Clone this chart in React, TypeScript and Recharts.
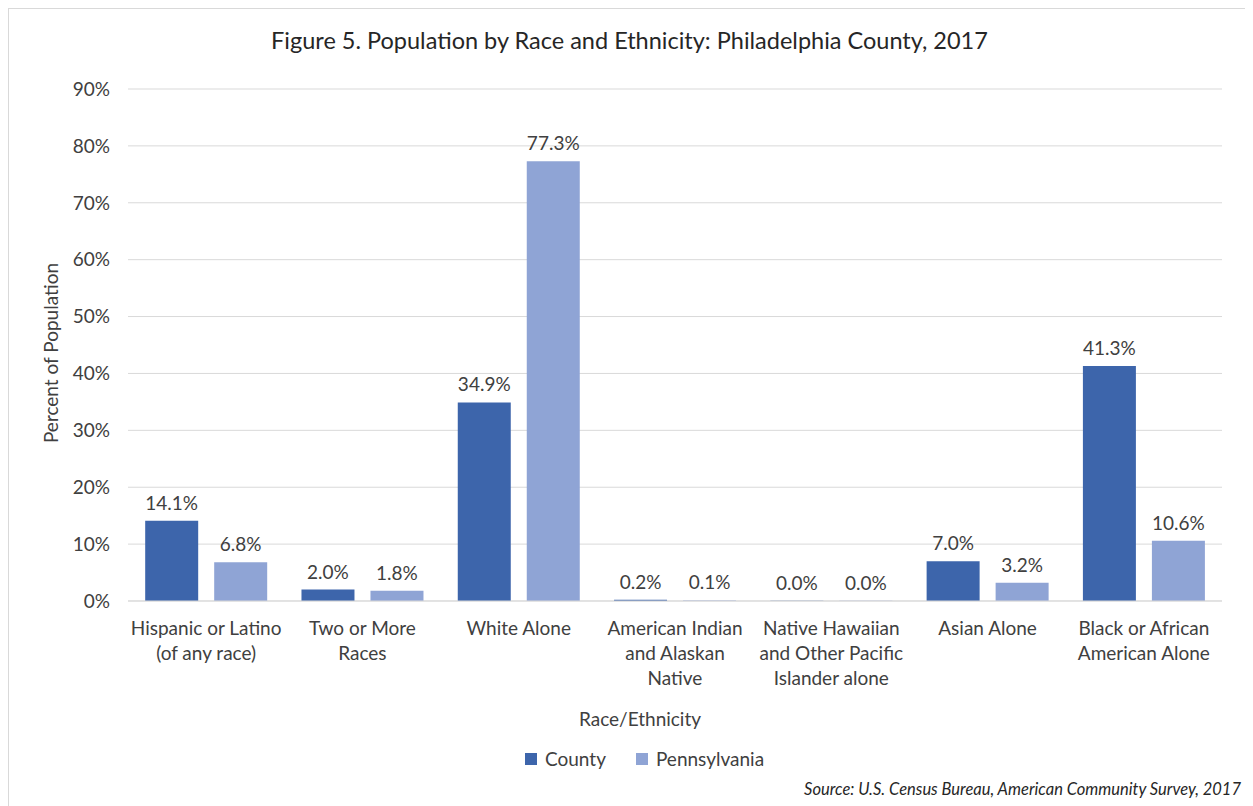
import { BarChart, Bar, XAxis, YAxis, CartesianGrid, LabelList, Legend } from 'recharts'

const categories = [
  'Hispanic or Latino (of any race)',
  'Two or More Races',
  'White Alone',
  'American Indian and Alaskan Native',
  'Native Hawaiian and Other Pacific Islander alone',
  'Asian Alone',
  'Black or African American Alone',
]

const categoryLines = [
  ['Hispanic or Latino', '(of any race)'],
  ['Two or More', 'Races'],
  ['White Alone'],
  ['American Indian', 'and Alaskan', 'Native'],
  ['Native Hawaiian', 'and Other Pacific', 'Islander alone'],
  ['Asian Alone'],
  ['Black or African', 'American Alone'],
]

const countyValues = [14.1, 2.0, 34.9, 0.2, 0.0, 7.0, 41.3]
const pennsylvaniaValues = [6.8, 1.8, 77.3, 0.1, 0.0, 3.2, 10.6]

const yTicks = [0, 10, 20, 30, 40, 50, 60, 70, 80, 90]

const COUNTY = '#3d65ab'
const PENN = '#8fa4d5'
const TEXT = '#404040'
const FONT = 'Lato, "Liberation Sans", sans-serif'
const FS = 19

const data = categories.map((name, i) => ({
  name,
  county: countyValues[i],
  pennsylvania: pennsylvaniaValues[i],
}))

function CategoryTick({ x, y, index }: any) {
  const lines = categoryLines[index] || []
  return (
    <text x={x} y={y} textAnchor="middle" fill={TEXT} fontSize={FS} fontFamily={FONT}>
      {lines.map((l, i) => (
        <tspan key={i} x={x} y={y + 26 + i * 25}>
          {l}
        </tspan>
      ))}
    </text>
  )
}

function LegendContent() {
  const items = [
    { label: 'County', color: COUNTY },
    { label: 'Pennsylvania', color: PENN },
  ]
  return (
    <div style={{ display: 'flex', fontFamily: FONT, fontSize: FS, color: TEXT }}>
      {items.map((it) => (
        <div key={it.label} style={{ display: 'flex', alignItems: 'center', marginRight: 30 }}>
          <span style={{ width: 12, height: 12, background: it.color, marginRight: 8 }} />
          {it.label}
        </div>
      ))}
    </div>
  )
}

const pct = (v: number) => `${Number(v).toFixed(1)}%`

export default function App() {
  return (
    <div
      style={{
        position: 'relative',
        width: 1245,
        height: 798,
        border: '1px solid #d9d9d9',
        background: '#fff',
        fontFamily: FONT,
      }}
    >
      <div
        style={{
          position: 'absolute',
          top: 17,
          left: 0,
          width: 1245,
          textAlign: 'center',
          fontSize: 23.5,
          color: '#262626',
        }}
      >
        <span style={{ position: 'relative', left: -2 }}>
          Figure 5. Population by Race and Ethnicity: Philadelphia County, 2017
        </span>
      </div>
      <BarChart
        width={1245}
        height={798}
        data={data}
        margin={{ top: 80, right: 32, bottom: 116, left: 0 }}
        barCategoryGap="11%"
        barGap={16}
      >
        <CartesianGrid vertical={false} stroke="#d9d9d9" />
        <XAxis
          dataKey="name"
          axisLine={{ stroke: '#d9d9d9' }}
          tickLine={false}
          height={90}
          interval={0}
          tick={<CategoryTick />}
          label={{
            content: ({ viewBox }: any) => (
              <text
                x={631}
                y={viewBox.y + 125}
                textAnchor="middle"
                fill={TEXT}
                fontSize={FS}
                fontFamily={FONT}
              >
                Race/Ethnicity
              </text>
            ),
          }}
        />
        <YAxis
          width={119}
          domain={[0, 90]}
          ticks={yTicks}
          interval={0}
          axisLine={false}
          tickLine={false}
          tickSize={0}
          tickMargin={18}
          tickFormatter={(v: number) => `${v}%`}
          tick={{ fill: TEXT, fontSize: FS, fontFamily: FONT }}
          label={{
            content: ({ viewBox }: any) => {
              const cx = 41
              const cy = viewBox.y + viewBox.height / 2 + 8
              return (
                <text
                  x={cx}
                  y={cy}
                  transform={`rotate(-90 ${cx} ${cy})`}
                  textAnchor="middle"
                  dominantBaseline="central"
                  fill={TEXT}
                  fontSize={FS}
                  fontFamily={FONT}
                >
                  Percent of Population
                </text>
              )
            },
          }}
        />
        <Legend
          layout="horizontal"
          verticalAlign="middle"
          align="center"
          content={<LegendContent />}
          wrapperStyle={{ top: 738, left: 516, width: 400 }}
        />
        <Bar dataKey="county" name="County" fill={COUNTY} minPointSize={0.3} isAnimationActive={false}>
          <LabelList
            dataKey="county"
            position="top"
            offset={11}
            formatter={pct}
            style={{ fill: TEXT, fontSize: FS, fontFamily: FONT }}
          />
        </Bar>
        <Bar dataKey="pennsylvania" name="Pennsylvania" fill={PENN} minPointSize={0.3} isAnimationActive={false}>
          <LabelList
            dataKey="pennsylvania"
            position="top"
            offset={11}
            formatter={pct}
            style={{ fill: TEXT, fontSize: FS, fontFamily: FONT }}
          />
        </Bar>
      </BarChart>
      <div
        style={{
          position: 'absolute',
          top: 770,
          right: 13,
          fontSize: 16.5,
          fontStyle: 'italic',
          color: '#262626',
        }}
      >
        Source: U.S. Census Bureau, American Community Survey, 2017
      </div>
    </div>
  )
}
